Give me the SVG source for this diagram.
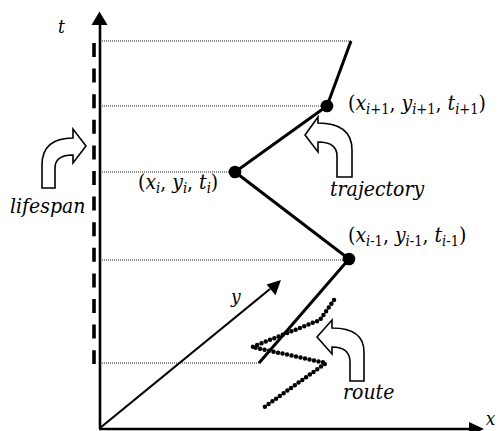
<svg xmlns="http://www.w3.org/2000/svg" width="499" height="431" viewBox="0 0 499 431">
<style>
text{font-family:"DejaVu Serif Condensed","DejaVu Serif",serif;font-stretch:condensed;font-size:21px;fill:#000}
.it{font-style:italic}
.sub{font-size:14.5px}
.guide{stroke:#222;stroke-width:1.2;stroke-dasharray:1 1;fill:none}
.traj{stroke:#000;stroke-width:3;fill:none}
.blk{fill:#fff;stroke:#000;stroke-width:1.6;stroke-linejoin:miter}
.route{stroke:#000;stroke-width:4.5;stroke-linecap:round;stroke-dasharray:0 4.6;fill:none}
</style>
<rect width="499" height="431" fill="#fff"/>
<g id="axes">
<line x1="100" y1="429" x2="100" y2="25" stroke="#000" stroke-width="2.6"/>
<path d="M99.5,11.5 L107.5,25 L91.5,25 Z" fill="#000"/>
<line x1="99" y1="429" x2="470" y2="429" stroke="#000" stroke-width="2.6"/>
<path d="M484,429 L469,422 L469,436 Z" fill="#000"/>
<line x1="100" y1="428" x2="270" y2="289" stroke="#000" stroke-width="2.2"/>
<path d="M281,280 L275.5,295.2 L266.6,284.4 Z" fill="#000"/>
<text class="it" x="58" y="33" style="font-size:19px">t</text>
<text class="it" x="486" y="425" style="font-size:18px">x</text>
<text class="it" x="231" y="303" style="font-size:19px">y</text>
</g>
<g id="lifespan">
<line x1="94" y1="43" x2="94" y2="364" stroke="#000" stroke-width="3.6" stroke-dasharray="14 11.6"/>
<path class="blk" d="M42,188 L42,165 Q42,138 73,138 L73,129 L86,146 L73,163 L73,155 Q55,155 55,168 L55,188 Z"/>
<text class="it" x="10" y="213">lifespan</text>
</g>
<g id="guides">
<line class="guide" x1="102" y1="41" x2="351" y2="41"/>
<line class="guide" x1="102" y1="106" x2="327" y2="106"/>
<line class="guide" x1="102" y1="172" x2="235" y2="172"/>
<line class="guide" x1="102" y1="260" x2="349" y2="260"/>
<line class="guide" x1="102" y1="363" x2="259" y2="363"/>
</g>
<g id="route">
<polyline class="route" points="334,300 320,320 252,347 326,363 263,408"/>
<path class="blk" d="M350,381 L350,362 Q350,347 332,347 L332,354 L317,337 L332,320 L332,328 Q364,328 364,352 L364,381 Z"/>
<text class="it" x="343" y="399">route</text>
</g>
<g id="trajectory">
<polyline class="traj" points="351,41 327,106 235,172 349,259 259,363"/>
<circle cx="327" cy="106" r="6.3" fill="#000"/>
<circle cx="235" cy="172" r="6.3" fill="#000"/>
<circle cx="349" cy="259" r="6.3" fill="#000"/>
<path class="blk" d="M337,177 L337,156 Q337,142 318,142 L318,152 L305,135 L318,117 L318,123 Q352,123 352,150 L352,177 Z"/>
<text class="it" x="330" y="196">trajectory</text>
</g>
<g id="p-i">
<text x="138" y="189">(<tspan class="it">x</tspan><tspan class="it sub" dy="4">i</tspan><tspan dy="-4">, </tspan><tspan class="it">y</tspan><tspan class="it sub" dy="4">i</tspan><tspan dy="-4">, </tspan><tspan class="it">t</tspan><tspan class="it sub" dy="4">i</tspan><tspan dy="-4">)</tspan></text>
</g>
<g id="p-i1">
<text x="348" y="110">(<tspan class="it">x</tspan><tspan class="sub" dy="4"><tspan class="it">i</tspan>+1</tspan><tspan dy="-4">, </tspan><tspan class="it">y</tspan><tspan class="sub" dy="4"><tspan class="it">i</tspan>+1</tspan><tspan dy="-4">, </tspan><tspan class="it">t</tspan><tspan class="sub" dy="4"><tspan class="it">i</tspan>+1</tspan><tspan dy="-4">)</tspan></text>
</g>
<g id="p-im1">
<text x="348" y="242">(<tspan class="it">x</tspan><tspan class="sub" dy="4"><tspan class="it">i</tspan>-1</tspan><tspan dy="-4">, </tspan><tspan class="it">y</tspan><tspan class="sub" dy="4"><tspan class="it">i</tspan>-1</tspan><tspan dy="-4">, </tspan><tspan class="it">t</tspan><tspan class="sub" dy="4"><tspan class="it">i</tspan>-1</tspan><tspan dy="-4">)</tspan></text>
</g>
</svg>
